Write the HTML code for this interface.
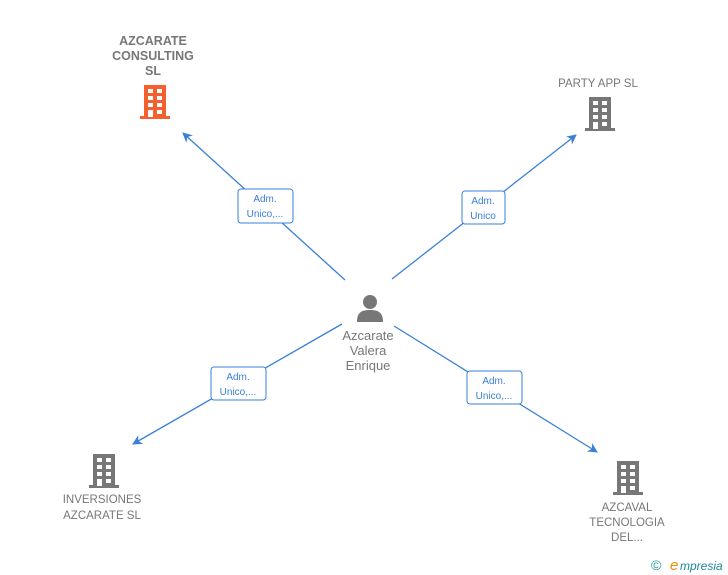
<!DOCTYPE html>
<html><head><meta charset="utf-8"><style>
html,body{margin:0;padding:0;background:#fff;}
svg{display:block;}
text{font-family:"Liberation Sans",Arial,sans-serif;}
</style></head><body>
<svg width="728" height="575" viewBox="0 0 728 575" xmlns="http://www.w3.org/2000/svg">
<defs>
<g id="bld">
<rect x="0" y="31" width="30" height="3"/>
<rect x="4" y="0" width="22" height="32"/>
<g fill="#fff">
<rect x="8" y="4" width="5" height="4"/><rect x="17" y="4" width="5" height="4"/>
<rect x="8" y="11" width="5" height="4"/><rect x="17" y="11" width="5" height="4"/>
<rect x="8" y="18" width="5" height="4"/><rect x="17" y="18" width="5" height="4"/>
<rect x="8" y="25" width="5" height="7"/><rect x="17" y="25" width="5" height="4"/>
</g>
</g>
<marker id="ar" markerWidth="10" markerHeight="10" refX="9" refY="5" orient="auto" markerUnits="userSpaceOnUse">
<path d="M0,0 L10,5 L0,10 L3,5 z" fill="#3a7fd8"/>
</marker>
</defs>
<g stroke="#3a7fd8" stroke-width="1.3" fill="none">
<line x1="345" y1="280" x2="183" y2="133" marker-end="url(#ar)"/>
<line x1="392" y1="279" x2="576" y2="135" marker-end="url(#ar)"/>
<line x1="342" y1="324" x2="133" y2="444" marker-end="url(#ar)"/>
<line x1="394" y1="326" x2="597" y2="452" marker-end="url(#ar)"/>
</g>
<g fill="#fff" stroke="#3a7fd8" stroke-width="1">
<rect x="238" y="189" width="55" height="34" rx="3"/>
<rect x="462" y="191" width="43" height="33" rx="3"/>
<rect x="211" y="367" width="55" height="33" rx="3"/>
<rect x="467" y="371" width="55" height="33" rx="3"/>
</g>
<g fill="#3a7fd8" font-size="10" text-anchor="middle">
<text x="265" y="202">Adm.</text><text x="265" y="217">Unico,...</text>
<text x="483" y="204">Adm.</text><text x="483" y="219">Unico</text>
<text x="238" y="380">Adm.</text><text x="238" y="395">Unico,...</text>
<text x="494" y="384">Adm.</text><text x="494" y="399">Unico,...</text>
</g>
<use href="#bld" x="140" y="85" fill="#f4612e"/>
<use href="#bld" x="585" y="97" fill="#777"/>
<use href="#bld" x="89" y="454" fill="#777"/>
<use href="#bld" x="613" y="461" fill="#777"/>
<g fill="#777">
<circle cx="370" cy="302" r="7"/>
<path d="M357,322 C357,312 362,310 370,310 C378,310 383,312 383,322 z"/>
</g>
<g font-size="13" fill="#777" text-anchor="middle">
<text x="368" y="340">Azcarate</text><text x="368" y="355">Valera</text><text x="368" y="370">Enrique</text>
</g>
<g font-size="11.5" fill="#777" text-anchor="middle">
<text x="153" y="45" font-weight="bold" font-size="12.5">AZCARATE</text>
<text x="153" y="60" font-weight="bold" font-size="12.5">CONSULTING</text>
<text x="153" y="75" font-weight="bold" font-size="12.5">SL</text>
<text x="598" y="87">PARTY APP  SL</text>
<text x="102" y="503">INVERSIONES</text>
<text x="102" y="519">AZCARATE  SL</text>
<text x="627" y="511">AZCAVAL</text>
<text x="627" y="526">TECNOLOGIA</text>
<text x="627" y="541">DEL...</text>
</g>
<text x="651" y="570" font-size="14" fill="#1a9a9a">©</text>
<text x="670" y="570" font-size="15" font-style="italic" fill="#f08a00" font-family="Liberation Serif,serif">e</text>
<text x="680" y="570" font-size="12" font-style="italic" fill="#1a8a9a">mpresia</text>
</svg>
</body></html>
